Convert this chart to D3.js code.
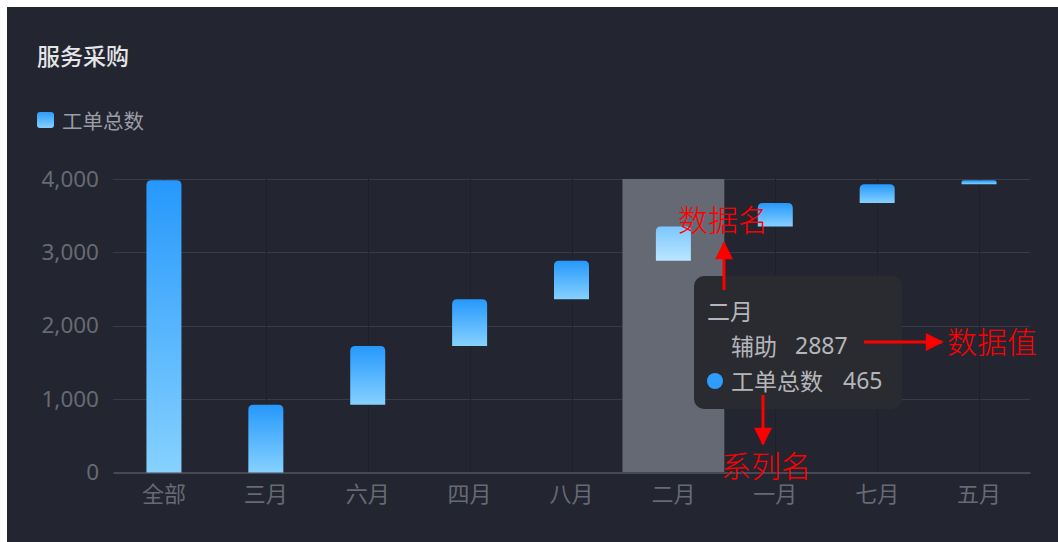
<!DOCTYPE html>
<html>
<head>
<meta charset="utf-8">
<script src="https://cdn.jsdelivr.net/npm/d3@7"></script>
<style>
  html, body { margin: 0; padding: 0; background: #ffffff; }
  svg { display: block; }
  text { font-family: "Noto Sans CJK SC", "Noto Sans", sans-serif; }
</style>
</head>
<body>
<svg id="chart" width="1058" height="542"></svg>
<script>
// ---- data ----
const chartTitle = "服务采购";
const seriesName = "工单总数";
const assistName = "辅助";
const categories = ["全部", "三月", "六月", "四月", "八月", "二月", "一月", "七月", "五月"];
const assistValues = [0, 0, 925, 1725, 2360, 2887, 3352, 3672, 3927];
const seriesValues = [3982, 925, 800, 635, 527, 465, 320, 255, 55];
const yTicks = [0, 1000, 2000, 3000, 4000];
const hoverIndex = 5;
const annotations = ["数据名", "数据值", "系列名"];

// ---- layout ----
const W = 1058, H = 542;
const pLeft = 113, pRight = 1030, pTop = 179, pBottom = 472.5;
const svg = d3.select("#chart");

const defs = svg.append("defs");
const grad = defs.append("linearGradient").attr("id", "barGrad")
  .attr("x1", 0).attr("y1", 0).attr("x2", 0).attr("y2", 1);
grad.append("stop").attr("offset", "0%").attr("stop-color", "#2698fc");
grad.append("stop").attr("offset", "100%").attr("stop-color", "#86d1ff");
const gradH = defs.append("linearGradient").attr("id", "barGradHover")
  .attr("x1", 0).attr("y1", 0).attr("x2", 0).attr("y2", 1);
gradH.append("stop").attr("offset", "0%").attr("stop-color", "#7cc6ff");
gradH.append("stop").attr("offset", "100%").attr("stop-color", "#b9e6ff");
const legGrad = defs.append("linearGradient").attr("id", "legGrad")
  .attr("x1", 0).attr("y1", 0).attr("x2", 0).attr("y2", 1);
legGrad.append("stop").attr("offset", "0%").attr("stop-color", "#2c9bff");
legGrad.append("stop").attr("offset", "100%").attr("stop-color", "#86d1ff");
defs.append("marker").attr("id", "arrow").attr("viewBox", "0 0 10 10")
  .attr("refX", 9).attr("refY", 5).attr("markerWidth", 24).attr("markerHeight", 18)
  .attr("markerUnits", "userSpaceOnUse")
  .attr("orient", "auto")
  .append("path").attr("d", "M0,0 L10,5 L0,10 Z").attr("fill", "#ff0000");

// card
svg.append("rect").attr("x", 7).attr("y", 7).attr("width", W - 7).attr("height", H - 7)
  .attr("fill", "#232530");

const x = d3.scaleBand().domain(categories).range([pLeft, pRight]);
const y = d3.scaleLinear().domain([0, 4000]).range([pBottom, pTop]);
const barW = 35;

// title
svg.append("text").attr("x", 37).attr("y", 55).attr("dominant-baseline", "central")
  .attr("fill", "#e4e5e8").attr("font-size", 23).attr("font-weight", 500).text(chartTitle);

// legend
svg.append("rect").attr("x", 37).attr("y", 112).attr("width", 17).attr("height", 16)
  .attr("rx", 3).attr("fill", "url(#legGrad)");
svg.append("text").attr("x", 62).attr("y", 120).attr("dominant-baseline", "central")
  .attr("fill", "#9a9da6").attr("font-size", 20.5).text(seriesName);

// grid lines
svg.append("g").selectAll("line").data(yTicks.filter(d => d > 0)).join("line")
  .attr("x1", pLeft).attr("x2", pRight)
  .attr("y1", d => Math.round(y(d)) + 0.5).attr("y2", d => Math.round(y(d)) + 0.5)
  .attr("stroke", "#393c48").attr("stroke-width", 1);

// vertical faint lines at category centres
svg.append("g").selectAll("line").data(categories).join("line")
  .attr("x1", d => Math.round(x(d) + x.bandwidth() / 2) + 0.5)
  .attr("x2", d => Math.round(x(d) + x.bandwidth() / 2) + 0.5)
  .attr("y1", pTop).attr("y2", pBottom)
  .attr("stroke", "#1f212a").attr("stroke-width", 1);

// hover shadow
svg.append("rect")
  .attr("x", x(categories[hoverIndex])).attr("y", pTop)
  .attr("width", x.bandwidth()).attr("height", pBottom - pTop)
  .attr("fill", "#656974");

// y axis
const yAxis = svg.append("g").attr("transform", `translate(${pLeft},0)`)
  .call(d3.axisLeft(y).tickValues(yTicks).tickFormat(d3.format(",")).tickSize(0).tickPadding(14));
yAxis.select(".domain").remove();
yAxis.selectAll("text").attr("fill", "#676a74").attr("font-size", 22.5)
  .style("font-family", "'Noto Sans', 'Noto Sans CJK SC', sans-serif");

// x axis
const xAxis = svg.append("g").attr("transform", `translate(0,${pBottom})`)
  .call(d3.axisBottom(x).tickSize(0).tickPadding(14));
xAxis.select(".domain").attr("stroke", "#474a56").attr("stroke-width", 2);
xAxis.selectAll("text").attr("fill", "#676a74").attr("font-size", 22);

// bars
function barPath(x0, y0, w, h, r) {
  r = Math.min(r, h / 2, w / 2);
  return `M${x0},${y0 + h} L${x0},${y0 + r} Q${x0},${y0} ${x0 + r},${y0} ` +
         `L${x0 + w - r},${y0} Q${x0 + w},${y0} ${x0 + w},${y0 + r} L${x0 + w},${y0 + h} Z`;
}
const barData = categories.map((c, i) => ({ c, i, base: assistValues[i], v: seriesValues[i] }));
svg.append("g").selectAll("path").data(barData).join("path")
  .attr("d", d => {
    const x0 = x(d.c) + (x.bandwidth() - barW) / 2;
    const y1 = y(d.base + d.v), y0 = y(d.base);
    return barPath(x0, y1, barW, y0 - y1, 5);
  })
  .attr("fill", d => d.i === hoverIndex ? "url(#barGradHover)" : "url(#barGrad)");

// tooltip
const tip = svg.append("g").attr("transform", "translate(694,276)");
tip.append("rect").attr("width", 208).attr("height", 133).attr("rx", 10)
  .attr("fill", "#2a2b30");
const tipText = (tx, ty, s) => tip.append("text").attr("x", tx).attr("y", ty)
  .attr("dominant-baseline", "central").attr("fill", "#b4b6bb").attr("font-size", 23).text(s);
tipText(13, 34, categories[hoverIndex]);
tipText(37, 69, assistName);
tipText(101, 69, assistValues[hoverIndex]).style("font-family", "'Noto Sans', sans-serif");
tip.append("circle").attr("cx", 21).attr("cy", 105).attr("r", 8).attr("fill", "#2f9cff");
tipText(37, 104, seriesName);
tipText(149, 104, seriesValues[hoverIndex]).style("font-family", "'Noto Sans', sans-serif");

// red annotations
const red = "#ff0000";
const ann = svg.append("g");
ann.append("text").attr("x", 678).attr("y", 218).attr("dominant-baseline", "central")
  .attr("fill", red).attr("font-size", 30).attr("font-weight", 300).text(annotations[0]);
ann.append("text").attr("x", 947).attr("y", 340).attr("dominant-baseline", "central")
  .attr("fill", red).attr("font-size", 30).attr("font-weight", 300).text(annotations[1]);
ann.append("text").attr("x", 721).attr("y", 464).attr("dominant-baseline", "central")
  .attr("fill", red).attr("font-size", 30).attr("font-weight", 300).text(annotations[2]);
function arrow(x1, y1, x2, y2) {
  ann.append("line").attr("x1", x1).attr("y1", y1).attr("x2", x2).attr("y2", y2)
    .attr("stroke", red).attr("stroke-width", 3).attr("marker-end", "url(#arrow)");
}
arrow(724, 290, 724, 243);
arrow(864, 342, 942, 342);
arrow(763, 395, 763, 444);
</script>
</body>
</html>
